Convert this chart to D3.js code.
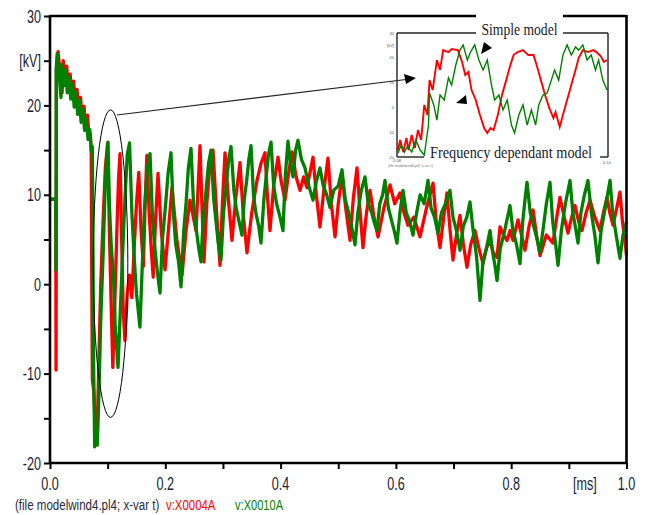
<!DOCTYPE html>
<html>
<head>
<meta charset="utf-8">
<script src="https://cdn.jsdelivr.net/npm/d3@7"></script>
<style>
  html, body { margin: 0; padding: 0; background: #fff; }
  svg { display: block; }
</style>
</head>
<body>
<div id="chart"></div>
<script>
// ---------------- DATA ----------------
const yTickValues = [-20, -15, -10, -5, 0, 5, 10, 15, 20, 25, 30];
const yTickLabels = ["-20", "", "-10", "", "0", "", "10", "", "20", "[kV]", "30"];
const xTickValues = [0, 0.1, 0.2, 0.3, 0.4, 0.5, 0.6, 0.7, 0.8, 0.9, 1.0];
const xTickLabels = ["0.0", "", "0.2", "", "0.4", "", "0.6", "", "0.8", "[ms]", "1.0"];
const legendItems = ["(file modelwind4.pl4; x-var t)", "v:X0004A", "v:X0010A"];

// v:X0004A  (red)  [time ms, kV]
const redSeries = [
[0,9.5],[0.0100,9.5],[0.0105,-9.6],[0.0112,24.2],[0.0140,26.0],[0.0165,24.4],[0.0190,22.8],[0.0210,21.4],[0.0230,25.0],[0.0260,22.5],[0.0290,24.4],[0.0320,21.7],[0.0350,23.5],[0.0380,20.9],[0.0410,22.7],[0.0440,20.0],[0.0470,21.8],[0.0500,19.2],[0.0530,20.9],[0.0560,18.3],[0.0590,19.9],[0.0620,17.4],[0.0650,18.9],[0.0680,16.4],[0.0700,16.8],[0.0715,14.6],[0.0725,0.0],[0.0735,-10.7],[0.0760,-12.0],[0.0790,-17.0],[0.0820,-16.0],[0.0850,-8.0],[0.0880,0.0],[0.0920,7.0],[0.0960,13.0],[0.1000,15.8],[0.1030,6.0],[0.1060,-2.0],[0.1090,-9.3],[0.1120,-3.0],[0.1160,6.0],[0.1190,12.0],[0.1215,14.6],[0.1240,6.0],[0.1270,-3.0],[0.1300,-6.3],[0.1340,-1.0],[0.1380,1.0],[0.1420,-1.5],[0.1460,4.0],[0.1500,9.0],[0.1540,12.5],[0.1580,6.0],[0.1620,2.0],[0.1650,9.0],[0.1680,14.4],[0.1720,8.0],[0.1760,3.5],[0.1790,0.8],[0.1830,7.0],[0.1873,12.4],[0.1930,6.0],[0.1995,1.6],[0.2060,6.5],[0.2116,10.8],[0.2200,5.0],[0.2290,1.0],[0.2360,6.0],[0.2428,9.4],[0.2533,6.0],[0.2570,11.0],[0.2602,15.5],[0.2640,8.0],[0.2671,2.5],[0.2720,9.0],[0.2770,13.0],[0.2827,15.0],[0.2890,8.0],[0.2949,2.1],[0.2990,9.0],[0.3036,14.7],[0.3100,9.0],[0.3157,4.9],[0.3220,9.5],[0.3296,13.6],[0.3350,8.0],[0.3417,3.5],[0.3500,8.0],[0.3591,11.6],[0.3660,13.5],[0.3729,14.7],[0.3770,10.0],[0.3816,6.0],[0.3880,11.0],[0.3955,14.2],[0.4010,11.5],[0.4076,9.4],[0.4140,12.5],[0.4198,14.8],[0.4270,12.0],[0.4337,10.5],[0.4400,12.0],[0.4458,10.8],[0.4510,12.5],[0.4562,14.2],[0.4620,10.0],[0.4683,6.4],[0.4750,10.5],[0.4822,14.1],[0.4880,9.0],[0.4944,5.3],[0.5000,9.0],[0.5065,12.2],[0.5130,8.5],[0.5204,4.9],[0.5260,9.5],[0.5325,13.0],[0.5380,8.0],[0.5429,4.1],[0.5490,8.0],[0.5551,10.5],[0.5620,7.5],[0.5690,5.3],[0.5790,8.5],[0.5898,11.1],[0.5980,9.0],[0.6071,10.2],[0.6140,8.0],[0.6210,6.6],[0.6310,7.5],[0.6418,5.3],[0.6530,8.5],[0.6644,11.3],[0.6700,7.0],[0.6765,4.1],[0.6830,7.5],[0.6886,10.2],[0.6940,6.0],[0.6990,2.7],[0.7050,5.5],[0.7112,7.7],[0.7170,4.5],[0.7233,1.9],[0.7300,4.5],[0.7372,6.0],[0.7440,4.0],[0.7511,2.3],[0.7570,4.0],[0.7632,4.9],[0.7690,3.5],[0.7754,3.0],[0.7806,6.4],[0.7870,5.5],[0.7927,4.9],[0.7980,6.0],[0.8031,4.9],[0.8118,7.2],[0.8180,5.5],[0.8239,3.8],[0.8310,6.5],[0.8378,8.3],[0.8440,5.5],[0.8500,3.2],[0.8610,5.5],[0.8725,4.6],[0.8790,7.5],[0.8846,9.7],[0.8920,7.5],[0.8985,5.7],[0.9050,7.5],[0.9107,8.8],[0.9170,7.0],[0.9228,6.0],[0.9300,8.0],[0.9367,9.4],[0.9450,7.5],[0.9540,6.0],[0.9600,8.0],[0.9662,9.7],[0.9710,8.0],[0.9766,6.6],[0.9830,8.5],[0.9887,10.3],[0.9930,7.0],[0.9974,4.9],[1.0000,3.2]
];

// v:X0010A  (green)  [time ms, kV]
const greenSeries = [
[0,9.5],[0.0100,9.5],[0.0104,1.6],[0.0108,24.0],[0.0125,25.8],[0.0150,24.2],[0.0170,22.6],[0.0190,20.9],[0.0210,24.6],[0.0240,22.2],[0.0270,24.0],[0.0300,21.4],[0.0330,23.2],[0.0360,20.7],[0.0390,22.4],[0.0420,19.8],[0.0450,21.5],[0.0480,19.0],[0.0510,20.6],[0.0540,18.1],[0.0570,19.6],[0.0600,17.2],[0.0630,18.5],[0.0660,16.2],[0.0690,17.3],[0.0720,14.8],[0.0735,15.4],[0.0745,4.0],[0.0755,-8.0],[0.0775,-18.2],[0.0800,-16.8],[0.0820,-18.0],[0.0850,-12.0],[0.0880,-4.0],[0.0920,3.0],[0.0950,9.5],[0.0980,14.0],[0.1006,15.9],[0.1030,9.0],[0.1060,4.5],[0.1100,1.0],[0.1130,-4.5],[0.1180,-9.3],[0.1220,-3.0],[0.1260,3.5],[0.1300,9.5],[0.1340,14.5],[0.1380,15.8],[0.1420,8.0],[0.1460,3.0],[0.1500,-1.0],[0.1560,-4.8],[0.1600,2.0],[0.1640,8.5],[0.1690,13.0],[0.1735,14.6],[0.1780,7.0],[0.1820,4.0],[0.1860,1.5],[0.1908,-1.0],[0.1950,5.0],[0.2000,8.5],[0.2050,12.5],[0.2099,14.7],[0.2140,8.0],[0.2180,4.5],[0.2230,2.5],[0.2272,-0.3],[0.2320,6.0],[0.2360,9.0],[0.2400,13.0],[0.2446,15.2],[0.2490,9.0],[0.2530,6.5],[0.2580,4.0],[0.2619,2.5],[0.2660,7.5],[0.2700,10.0],[0.2750,13.5],[0.2793,15.0],[0.2840,9.5],[0.2880,7.0],[0.2920,4.5],[0.2966,2.7],[0.3010,8.0],[0.3050,10.5],[0.3100,14.0],[0.3140,15.4],[0.3190,10.5],[0.3230,8.5],[0.3280,7.0],[0.3330,5.5],[0.3370,9.5],[0.3410,11.5],[0.3450,14.0],[0.3487,15.5],[0.3530,10.0],[0.3570,8.0],[0.3620,6.5],[0.3660,4.6],[0.3710,9.5],[0.3750,12.0],[0.3790,14.5],[0.3834,15.9],[0.3880,11.0],[0.3930,9.0],[0.3990,7.5],[0.4042,6.0],[0.4080,12.0],[0.4128,16.0],[0.4170,13.5],[0.4215,12.0],[0.4260,15.0],[0.4302,16.1],[0.4360,14.0],[0.4423,13.0],[0.4490,11.0],[0.4562,9.4],[0.4620,11.5],[0.4683,13.0],[0.4740,11.0],[0.4800,10.0],[0.4857,8.6],[0.4920,10.5],[0.5000,11.0],[0.5065,12.8],[0.5120,9.5],[0.5180,8.0],[0.5230,6.5],[0.5291,4.4],[0.5340,8.0],[0.5400,10.5],[0.5464,12.0],[0.5520,9.0],[0.5580,8.0],[0.5620,7.0],[0.5672,6.0],[0.5720,9.0],[0.5770,10.0],[0.5811,11.6],[0.5870,8.5],[0.5930,7.0],[0.5970,6.0],[0.6019,4.6],[0.6070,8.0],[0.6123,10.5],[0.6180,8.0],[0.6240,7.0],[0.6297,5.5],[0.6360,8.0],[0.6420,10.0],[0.6490,9.0],[0.6557,11.6],[0.6610,8.5],[0.6670,7.5],[0.6730,5.7],[0.6790,8.0],[0.6860,9.0],[0.6938,10.5],[0.6990,7.5],[0.7050,6.0],[0.7112,3.8],[0.7170,6.5],[0.7230,7.5],[0.7285,9.2],[0.7340,6.0],[0.7400,3.0],[0.7459,-1.8],[0.7510,2.5],[0.7570,4.0],[0.7632,6.0],[0.7680,3.5],[0.7720,2.0],[0.7754,0.4],[0.7810,4.0],[0.7870,5.5],[0.7920,7.0],[0.7979,8.8],[0.8030,6.0],[0.8090,4.5],[0.8153,2.3],[0.8200,7.0],[0.8240,9.5],[0.8274,11.4],[0.8330,8.0],[0.8390,6.5],[0.8450,5.0],[0.8500,3.5],[0.8560,6.5],[0.8610,9.0],[0.8673,11.4],[0.8720,7.0],[0.8770,4.5],[0.8812,2.1],[0.8870,6.0],[0.8940,9.0],[0.9020,11.6],[0.9070,8.0],[0.9110,6.5],[0.9159,4.6],[0.9210,8.0],[0.9270,10.0],[0.9332,11.6],[0.9390,8.0],[0.9450,5.5],[0.9506,2.4],[0.9560,6.0],[0.9630,8.5],[0.9714,11.6],[0.9760,8.0],[0.9820,5.5],[0.9887,2.9],[0.9940,5.5],[1.0000,7.0]
];

// Inset (zoomed comparison), time in microseconds, kV
const insetYTicks = [30, 25, 20, 15, 10, 5, 0, -5, -10, -15, -20];
const insetRed = [
[80.1,-17.2],[80.3,-13.1],[80.6,-18.0],[80.9,-12.3],[81.1,-17.2],[81.4,-11.1],[81.7,-16.4],[82.0,-9.1],[82.3,-13.1],[82.6,1.0],[82.9,-3.1],[83.1,11.0],[83.4,7.0],[83.8,19.1],[84.1,15.1],[84.4,23.1],[84.9,22.3],[85.2,23.5],[85.8,23.1],[86.2,18.3],[86.5,13.1],[86.8,14.3],[87.1,7.0],[87.5,3.0],[87.9,-3.1],[88.3,-8.3],[88.6,-10.3],[88.9,-8.3],[89.2,-9.1],[89.6,-3.1],[90.0,5.0],[90.4,11.0],[90.8,17.1],[91.1,21.1],[91.5,22.3],[92.0,23.1],[92.5,21.1],[93.0,21.1],[93.3,17.1],[93.7,11.0],[94.1,5.0],[94.5,-0.2],[94.9,-4.3],[95.1,-1.9],[95.5,-7.9],[95.8,-3.1],[96.2,3.0],[96.6,9.0],[97.0,15.1],[97.3,19.9],[97.7,23.1],[98.2,22.3],[98.7,23.1],[99.0,22.3],[99.4,20.7],[99.7,18.3],[100,19.1]
];
const insetGreen = [
[80.1,-18.4],[80.4,-15.2],[80.7,-18.0],[81.0,-15.6],[81.4,-18.0],[81.8,-13.1],[82.2,-17.2],[82.6,-19.2],[83.0,-7.1],[83.1,5.8],[83.5,1.0],[83.8,-5.1],[84.1,5.0],[84.5,3.0],[84.9,11.9],[85.2,9.0],[85.6,17.1],[86.0,23.1],[86.3,25.2],[86.7,19.1],[87.0,22.3],[87.4,25.2],[87.8,19.1],[88.2,15.1],[88.6,19.1],[89.0,9.0],[89.3,3.0],[89.7,5.0],[90.1,-1.0],[90.5,3.0],[90.9,-7.1],[91.2,-10.3],[91.6,-3.1],[92.0,1.0],[92.4,-7.1],[92.8,-1.0],[93.2,-7.1],[93.5,1.0],[93.9,5.0],[94.3,5.8],[94.7,11.0],[95.0,15.1],[95.4,11.0],[95.8,21.1],[96.2,25.2],[96.6,21.1],[97.0,24.4],[97.3,23.1],[97.7,25.2],[98.1,19.1],[98.5,21.1],[98.9,15.1],[99.2,19.1],[99.6,11.0],[100,7.0]
];

// ---------------- CHART ----------------
const W = 648, H = 515;
const svg = d3.select("#chart").append("svg").attr("width", W).attr("height", H);
svg.append("rect").attr("width", W).attr("height", H).attr("fill", "#fff");

const x = d3.scaleLinear().domain([0, 1]).range([50, 626.5]);
const y = d3.scaleLinear().domain([-20, 30]).range([463, 16]);

const RED = "#ff0000", GREEN = "#008000", TXT = "#1c1c34";

// traces
const line = d3.line().x(d => x(d[0])).y(d => y(d[1]));
svg.append("path").datum(redSeries).attr("d", line)
  .attr("fill", "none").attr("stroke", RED).attr("stroke-width", 3.3).attr("stroke-linejoin", "round");
svg.append("path").datum(greenSeries).attr("d", line)
  .attr("fill", "none").attr("stroke", GREEN).attr("stroke-width", 3.3).attr("stroke-linejoin", "round");

// axes ticks
svg.append("g").attr("transform", `translate(${x(0)},0)`)
  .call(d3.axisLeft(y).tickValues(yTickValues).tickSize(6).tickFormat(""))
  .call(g => g.select(".domain").remove())
  .selectAll("line").attr("stroke", "#000").attr("stroke-width", 2);
svg.append("g").attr("transform", `translate(0,${y(-20)})`)
  .call(d3.axisBottom(x).tickValues(xTickValues).tickSize(6).tickFormat(""))
  .call(g => g.select(".domain").remove())
  .selectAll("line").attr("stroke", "#000").attr("stroke-width", 2);

// frame
const frame = svg.append("g").attr("stroke", "#000").attr("stroke-width", 2.6).attr("fill", "none");
frame.append("line").attr("x1", x(0)).attr("x2", x(0)).attr("y1", y(30) - 1).attr("y2", y(-20) + 1);
frame.append("line").attr("x1", x(0)).attr("x2", x(1)).attr("y1", y(-20)).attr("y2", y(-20));
frame.append("line").attr("x1", x(1)).attr("x2", x(1)).attr("y1", y(30) - 1).attr("y2", y(-20) + 1);
frame.append("line").attr("x1", x(0)).attr("x2", 476).attr("y1", y(30)).attr("y2", y(30));
frame.append("line").attr("x1", 563).attr("x2", x(1)).attr("y1", y(30)).attr("y2", y(30));

// tick labels (condensed sans)
function condText(g, tx, ty, str, anchor, size, sx, color) {
  g.append("g").attr("transform", `translate(${tx},${ty}) scale(${sx},1)`)
    .append("text").attr("text-anchor", anchor)
    .attr("font-family", "Liberation Sans, Arial, sans-serif")
    .attr("font-size", size).attr("fill", color).text(str);
}
yTickValues.forEach((v, i) => {
  if (yTickLabels[i]) condText(svg, 41, y(v) + 6.5, yTickLabels[i], "end", 18, 0.7, TXT);
});
xTickValues.forEach((t, i) => {
  if (!xTickLabels[i]) return;
  const px = xTickLabels[i] === "[ms]" ? x(t) + 16 : x(t);
  condText(svg, px, 490, xTickLabels[i], "middle", 18, 0.7, TXT);
});

// bottom legend
condText(svg, 15, 510, legendItems[0], "start", 15, 0.77, "#2a2a40");
condText(svg, 166, 510, legendItems[1], "start", 15, 0.76, RED);
condText(svg, 235, 510, legendItems[2], "start", 15, 0.74, GREEN);

// annotation ellipse around the first oscillations
const ell = { t: 0.105, v: 2.3, dt: 0.0300, dv: 17.2 };
svg.append("ellipse")
  .attr("cx", x(ell.t)).attr("cy", y(ell.v))
  .attr("rx", x(ell.dt) - x(0)).attr("ry", y(0) - y(ell.dv))
  .attr("fill", "none").attr("stroke", "#000").attr("stroke-width", 1);

// ---------------- INSET ----------------
const ix = d3.scaleLinear().domain([80, 100]).range([397, 607]);
const iy = d3.scaleLinear().domain([-20, 30]).range([157, 33]);

svg.append("rect").attr("x", 383).attr("y", 19).attr("width", 233).attr("height", 150).attr("fill", "#fff");

const iline = d3.line().x(d => ix(d[0])).y(d => iy(d[1]));
svg.append("path").datum(insetRed).attr("d", iline)
  .attr("fill", "none").attr("stroke", RED).attr("stroke-width", 1.9);
svg.append("path").datum(insetGreen).attr("d", iline)
  .attr("fill", "none").attr("stroke", GREEN).attr("stroke-width", 1.4);

const ifr = svg.append("g").attr("stroke", "#222").attr("stroke-width", 1.4).attr("fill", "none");
ifr.append("line").attr("x1", ix(80)).attr("x2", ix(80)).attr("y1", iy(30)).attr("y2", iy(-20));
ifr.append("line").attr("x1", ix(80)).attr("x2", 424).attr("y1", iy(-20)).attr("y2", iy(-20));
ifr.append("line").attr("x1", 600).attr("x2", ix(100) + 1).attr("y1", iy(-20)).attr("y2", iy(-20));
ifr.append("line").attr("x1", ix(100) + 1).attr("x2", ix(100) + 1).attr("y1", iy(30)).attr("y2", iy(-20));
ifr.append("line").attr("x1", ix(80)).attr("x2", 478).attr("y1", iy(30)).attr("y2", iy(30));
ifr.append("line").attr("x1", 560).attr("x2", ix(100) + 1).attr("y1", iy(30)).attr("y2", iy(30));

// tiny inset tick labels
insetYTicks.forEach((v, i) => {
  if (i % 2 === 1 && v !== 25) return;
  svg.append("text").attr("x", 394).attr("y", iy(v) + 1.5).attr("text-anchor", "end")
    .attr("font-family", "Liberation Sans, Arial, sans-serif").attr("font-size", 4)
    .attr("fill", "#555").text(v === 25 ? "[kV]" : v);
});
svg.append("text").attr("x", 397).attr("y", 162).attr("text-anchor", "middle")
  .attr("font-family", "Liberation Sans, Arial, sans-serif").attr("font-size", 4).attr("fill", "#555").text("0.08");
svg.append("text").attr("x", 388).attr("y", 167)
  .attr("font-family", "Liberation Sans, Arial, sans-serif").attr("font-size", 3.6).attr("fill", "#777").text("(file modelwind4.pl4; x-var t)");
svg.append("text").attr("x", 607).attr("y", 164).attr("text-anchor", "middle")
  .attr("font-family", "Liberation Sans, Arial, sans-serif").attr("font-size", 4).attr("fill", "#555").text("0.10");

// labels with white backgrounds
svg.append("rect").attr("x", 476).attr("y", 11).attr("width", 87).attr("height", 28).attr("fill", "#fff");
svg.append("text").attr("x", 519.5).attr("y", 35).attr("text-anchor", "middle")
  .attr("font-family", "Liberation Serif, Times New Roman, serif").attr("font-size", 16)
  .attr("fill", "#1a1a2a").attr("textLength", 76).attr("lengthAdjust", "spacingAndGlyphs").text("Simple model");
svg.append("rect").attr("x", 427).attr("y", 143).attr("width", 170).attr("height", 19).attr("fill", "#fff");
svg.append("text").attr("x", 511).attr("y", 158).attr("text-anchor", "middle")
  .attr("font-family", "Liberation Serif, Times New Roman, serif").attr("font-size", 16)
  .attr("fill", "#1a1a2a").attr("textLength", 162).attr("lengthAdjust", "spacingAndGlyphs").text("Frequency dependant model");

// connector line from ellipse to inset with arrowhead
svg.append("line").attr("x1", 117).attr("y1", 115).attr("x2", 406).attr("y2", 79.5)
  .attr("stroke", "#222").attr("stroke-width", 1.2);
svg.append("path").attr("d", "M416,78 L404,74 L406,84 Z").attr("fill", "#000");
// arrow toward simple model trace
svg.append("path").attr("d", "M481,54 L484,42 L492,48 Z").attr("fill", "#000");
// arrow toward frequency-dependant trace
svg.append("path").attr("d", "M456,103 L466,95 L467,104 Z").attr("fill", "#000");
</script>
</body>
</html>
